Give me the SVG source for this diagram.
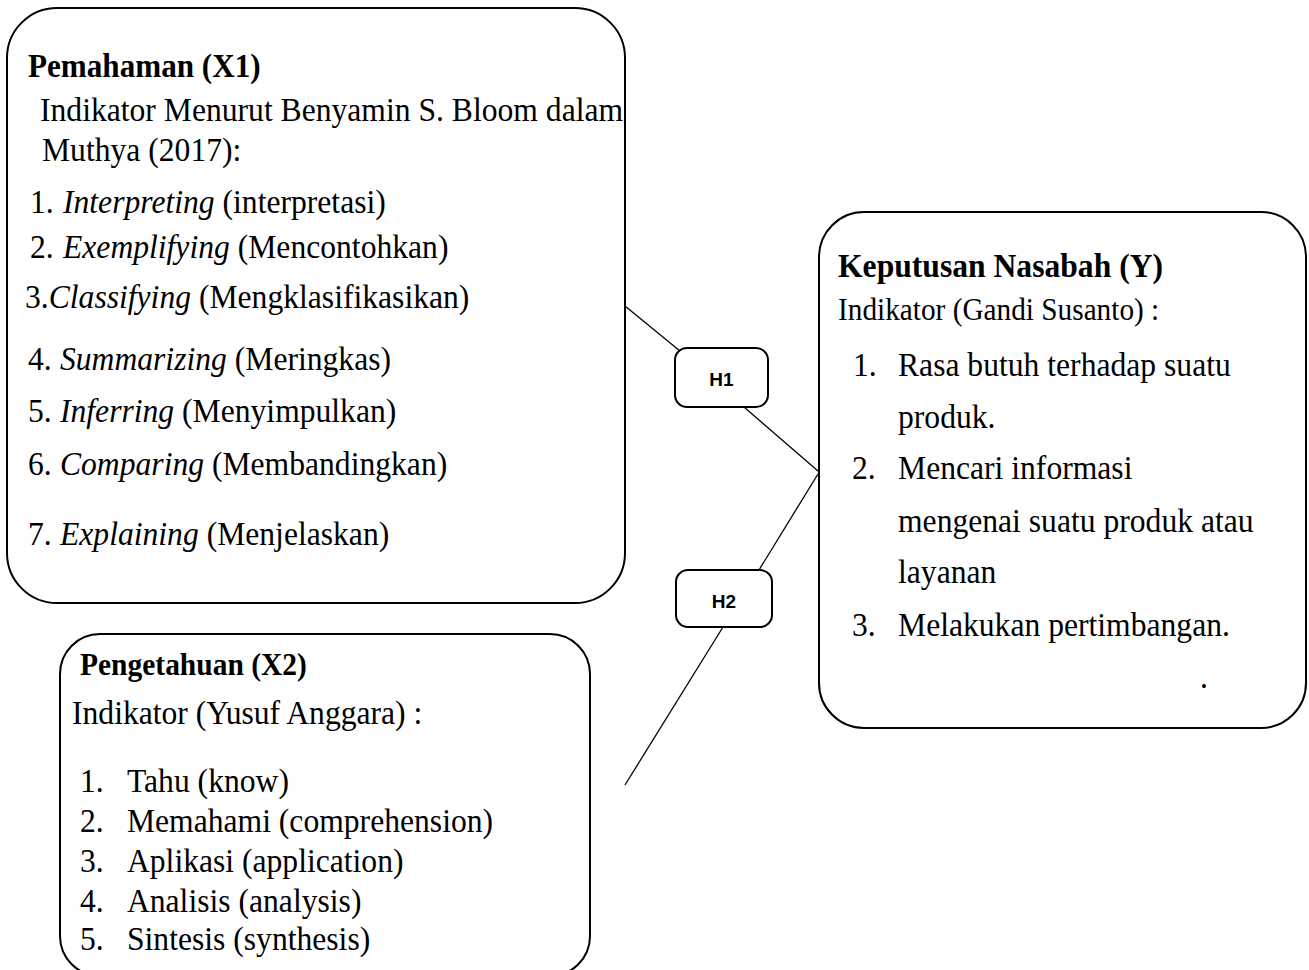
<svg xmlns="http://www.w3.org/2000/svg" width="1309" height="970" viewBox="0 0 1309 970">
<style>
.box{fill:#fff;stroke:#000;stroke-width:2}
.hbox{fill:#fff;stroke:#000;stroke-width:2}
.t{font-family:"Liberation Serif","Times New Roman",serif;font-size:34px;fill:#000}
.b{font-weight:bold}
.i{font-style:italic}
.h{font-family:"Liberation Sans",Arial,sans-serif;font-weight:bold;font-size:19px;fill:#000;text-anchor:middle}
.ln{stroke:#000;stroke-width:1.3;fill:none}
</style>
<rect width="1309" height="970" fill="#fff"/>
<g id="connectors">
<line class="ln" x1="625" y1="306" x2="680" y2="351"/>
<line class="ln" x1="744" y1="407" x2="818" y2="471"/>
<line class="ln" x1="818" y1="474" x2="759" y2="570"/>
<line class="ln" x1="723" y1="627" x2="625" y2="785"/>
</g>
<g id="x1">
<rect class="box" x="7" y="8" width="618" height="595" rx="50" ry="50"/>
<text class="t b" transform="translate(28,77) scale(0.93,1)" style="font-size:33.5px">Pemahaman (X1)</text>
<text class="t" transform="translate(40,121) scale(0.93,1)">Indikator Menurut Benyamin S. Bloom dalam</text>
<text class="t" transform="translate(42,161) scale(0.93,1)">Muthya (2017):</text>
<text class="t" transform="translate(30,213) scale(0.93,1)"><tspan x="0">1.</tspan><tspan x="35.5" class="i">Interpreting</tspan> (interpretasi)</text>
<text class="t" transform="translate(30,258) scale(0.93,1)"><tspan x="0">2.</tspan><tspan x="35.5" class="i">Exemplifying</tspan> (Mencontohkan)</text>
<text class="t" transform="translate(25,308) scale(0.93,1)"><tspan x="0">3.</tspan><tspan class="i">Classifying</tspan> (Mengklasifikasikan)</text>
<text class="t" transform="translate(28,370) scale(0.93,1)"><tspan x="0">4.</tspan><tspan x="34.4" class="i">Summarizing</tspan> (Meringkas)</text>
<text class="t" transform="translate(28,422) scale(0.93,1)"><tspan x="0">5.</tspan><tspan x="34.4" class="i">Inferring</tspan> (Menyimpulkan)</text>
<text class="t" transform="translate(28,475) scale(0.93,1)"><tspan x="0">6.</tspan><tspan x="34.4" class="i">Comparing</tspan> (Membandingkan)</text>
<text class="t" transform="translate(28,545) scale(0.93,1)"><tspan x="0">7.</tspan><tspan x="34.4" class="i">Explaining</tspan> (Menjelaskan)</text>
</g>
<g id="h1">
<rect class="hbox" x="675" y="348" width="93" height="59" rx="12" ry="12"/>
<text class="h" x="721.5" y="386">H1</text>
</g>
<g id="h2">
<rect class="hbox" x="676" y="570" width="96" height="57" rx="12" ry="12"/>
<text class="h" x="724" y="608">H2</text>
</g>
<g id="y">
<rect class="box" x="819" y="212" width="487" height="516" rx="45" ry="45"/>
<text class="t b" transform="translate(838,277) scale(0.93,1)">Keputusan Nasabah (Y)</text>
<text class="t" transform="translate(838,320) scale(0.93,1)" style="font-size:31.5px">Indikator (Gandi Susanto) :</text>
<text class="t" transform="translate(853,376) scale(0.93,1)"><tspan x="0">1.</tspan><tspan x="48.4">Rasa butuh terhadap suatu</tspan></text>
<text class="t" transform="translate(898,428) scale(0.93,1)">produk.</text>
<text class="t" transform="translate(852,479) scale(0.93,1)"><tspan x="0">2.</tspan><tspan x="49.5">Mencari informasi</tspan></text>
<text class="t" transform="translate(898,532) scale(0.93,1)">mengenai suatu produk atau</text>
<text class="t" transform="translate(898,583) scale(0.93,1)">layanan</text>
<text class="t" transform="translate(852,636) scale(0.93,1)"><tspan x="0">3.</tspan><tspan x="49.5">Melakukan pertimbangan.</tspan></text>
<text class="t" transform="translate(1200,688) scale(0.93,1)">.</text>
</g>
<g id="x2">
<rect class="box" x="60" y="634" width="530" height="342" rx="40" ry="40"/>
<text class="t b" transform="translate(80,675) scale(0.93,1)" style="font-size:31.7px">Pengetahuan (X2)</text>
<text class="t" transform="translate(72,724) scale(0.93,1)">Indikator (Yusuf Anggara) :</text>
<text class="t" transform="translate(80,792) scale(0.93,1)"><tspan x="0">1.</tspan><tspan x="50.5">Tahu (know)</tspan></text>
<text class="t" transform="translate(80,832) scale(0.93,1)"><tspan x="0">2.</tspan><tspan x="50.5">Memahami (comprehension)</tspan></text>
<text class="t" transform="translate(80,872) scale(0.93,1)"><tspan x="0">3.</tspan><tspan x="50.5">Aplikasi (application)</tspan></text>
<text class="t" transform="translate(80,912) scale(0.93,1)"><tspan x="0">4.</tspan><tspan x="50.5">Analisis (analysis)</tspan></text>
<text class="t" transform="translate(80,950) scale(0.93,1)"><tspan x="0">5.</tspan><tspan x="50.5">Sintesis (synthesis)</tspan></text>
</g>
</svg>
